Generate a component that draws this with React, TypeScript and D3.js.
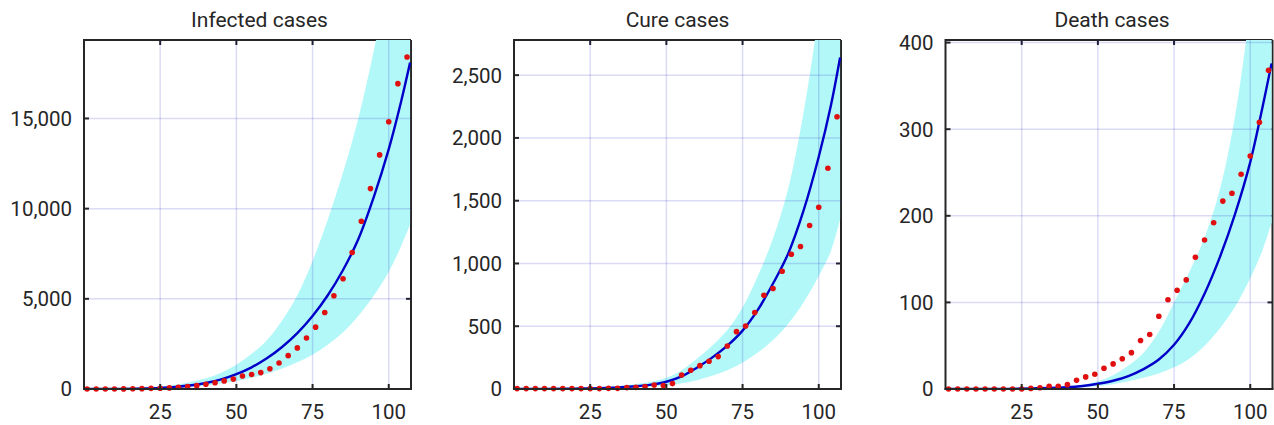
import React from "react";
import * as d3 from "d3";

// observation days (every third day)
const days = [1, 4, 7, 10, 13, 16, 19, 22, 25, 28, 31, 34, 37, 40, 43, 46, 49, 52, 55, 58, 61, 64, 67, 70, 73, 76, 79, 82, 85, 88, 91, 94, 97, 100, 103, 106];

const infectedObserved = [0, 0, 0, 0, 5, 10, 20, 35, 45, 60, 100, 140, 185, 260, 350, 450, 550, 720, 800, 910, 1120, 1440, 1850, 2280, 2830, 3430, 4240, 5170, 6110, 7570, 9300, 11110, 12980, 14815, 16930, 18410];
const cureObserved = [3, 3, 3, 3, 3, 3, 3, 3, 3, 3, 5, 5, 11, 13, 19, 32, 27, 43, 112, 149, 186, 221, 258, 343, 457, 502, 609, 747, 800, 938, 1073, 1135, 1302, 1448, 1759, 2169];
const deathObserved = [0, 0, 0, 0, 0, 0, 0, 0, 0, 0.7, 1.5, 3, 3, 5, 10, 14, 17, 24, 29, 35, 42, 56, 63, 84, 103, 114, 126, 152, 172, 192, 217, 226, 248, 269, 308, 368];

// fitted curve and confidence band, read at these days
const fitDays = [0, 10, 20, 30, 40, 45, 50, 55, 60, 65, 70, 75, 80, 85, 90, 95, 100, 104, 107];

const infectedFit = [0, 3, 25, 110, 330, 530, 820, 1200, 1700, 2330, 3100, 4050, 5200, 6600, 8300, 10600, 13300, 15900, 18100];
const infectedUpper = [0, 8, 60, 230, 600, 900, 1350, 1950, 2700, 3800, 5200, 7100, 9400, 12000, 15000, 18700, 23000, 27000, 30500];
const infectedLower = [0, 1, 15, 70, 200, 300, 440, 620, 850, 1130, 1480, 1900, 2450, 3150, 4050, 5150, 6500, 7900, 9100];

const cureFit = [0, 1, 3, 8, 22, 35, 58, 100, 170, 250, 345, 465, 630, 840, 1080, 1420, 1850, 2260, 2640];
const cureUpper = [0, 2, 6, 16, 40, 58, 90, 150, 240, 345, 470, 650, 900, 1200, 1600, 2200, 3000, 3800, 4500];
const cureLower = [0, 0.5, 1.5, 4, 12, 18, 28, 45, 70, 105, 150, 210, 290, 390, 520, 690, 900, 1100, 1350];

const deathFit = [0, 0, 0.2, 0.8, 2, 3.5, 6, 9.5, 15, 23, 34, 51, 76, 110, 152, 202, 262, 325, 376];
const deathUpper = [0, 0.1, 0.5, 1.5, 3, 5, 9, 16, 27, 42, 66, 100, 135, 175, 230, 315, 440, 560, 660];
const deathLower = [0, 0, 0.1, 0.3, 1, 2, 3.5, 5.5, 9, 13, 18, 25, 35, 50, 70, 95, 128, 160, 192];

const xTicks = [25, 50, 75, 100];
const infectedTicks = [0, 5000, 10000, 15000];
const cureTicks = [0, 500, 1000, 1500, 2000, 2500];
const deathTicks = [0, 100, 200, 300, 400];

const panels = [
  { title: "Infected cases", left: 84, yMax: 19350, yTicks: infectedTicks, obs: infectedObserved, fit: infectedFit, hi: infectedUpper, lo: infectedLower, titleDx: 12 },
  { title: "Cure cases", left: 514, yMax: 2780, yTicks: cureTicks, obs: cureObserved, fit: cureFit, hi: cureUpper, lo: cureLower, titleDx: 0 },
  { title: "Death cases", left: 945.5, yMax: 403, yTicks: deathTicks, obs: deathObserved, fit: deathFit, hi: deathUpper, lo: deathLower, titleDx: 3 },
];

const top = 40;
const bottom = 389;
const plotW = 327;
const textColor = "#262626";
const fmt = d3.format(",");

const Panel = ({ p, i }: { p: any; i: number }) => {
  const x = d3.scaleLinear().domain([0, 107.3]).range([p.left, p.left + plotW]);
  const y = d3.scaleLinear().domain([0, p.yMax]).range([bottom, top]);
  const right = p.left + plotW;

  const band = d3
    .area<number>()
    .x((_, k) => x(fitDays[k]))
    .y0((_, k) => y(p.lo[k]))
    .y1((_, k) => y(p.hi[k]))
    .curve(d3.curveCatmullRom.alpha(0.5));
  const line = d3
    .line<number>()
    .x((_, k) => x(fitDays[k]))
    .y((d) => y(d))
    .curve(d3.curveCatmullRom.alpha(0.5));

  const clipId = `clip-${i}`;
  const tl = 5;

  return (
    <g>
      <defs>
        <clipPath id={clipId}>
          <rect x={p.left} y={top} width={plotW} height={bottom - top} />
        </clipPath>
      </defs>
      <rect x={p.left} y={top} width={plotW} height={bottom - top} fill="#fff" />
      {/* top and right border sit under the band */}
      <line x1={p.left} x2={right} y1={top} y2={top} stroke={textColor} strokeWidth={2} />
      <line x1={right} x2={right} y1={top} y2={bottom} stroke={textColor} strokeWidth={2} />
      {xTicks.map((t) => (
        <line key={"tt" + t} x1={x(t)} x2={x(t)} y1={top} y2={top + tl} stroke={textColor} strokeWidth={2} />
      ))}
      {p.yTicks.map((t: number) => (
        <line key={"rt" + t} x1={right} x2={right - tl} y1={y(t)} y2={y(t)} stroke={textColor} strokeWidth={2} />
      ))}
      <g clipPath={`url(#${clipId})`}>
        <path d={band(p.fit) || ""} fill="#b3f8f8" />
        {xTicks.map((t) => (
          <line key={"gx" + t} x1={x(t)} x2={x(t)} y1={top} y2={bottom} stroke="#0000c0" strokeOpacity={0.14} strokeWidth={1.5} />
        ))}
        {p.yTicks.filter((t: number) => t > 0).map((t: number) => (
          <line key={"gy" + t} x1={p.left} x2={right} y1={y(t)} y2={y(t)} stroke="#0000c0" strokeOpacity={0.14} strokeWidth={1.5} />
        ))}
        <path d={line(p.fit) || ""} fill="none" stroke="#0000c8" strokeWidth={2.4} />
      </g>
      {p.obs.map((v: number, k: number) => (
        <circle key={"d" + k} cx={x(days[k])} cy={y(v)} r={2.8} fill="#e01010" />
      ))}
      {/* left and bottom axes */}
      <line x1={p.left} x2={p.left} y1={top - 1} y2={bottom + 1} stroke={textColor} strokeWidth={2} />
      <line x1={p.left - 1} x2={right + 1} y1={bottom} y2={bottom} stroke={textColor} strokeWidth={2} />
      {xTicks.map((t) => (
        <g key={"xt" + t}>
          <line x1={x(t)} x2={x(t)} y1={bottom} y2={bottom - tl} stroke={textColor} strokeWidth={2} />
          <text x={x(t)} y={419} textAnchor="middle" fontSize={20.5} fill={textColor}>
            {t}
          </text>
        </g>
      ))}
      {p.yTicks.map((t: number) => (
        <g key={"yt" + t}>
          <line x1={p.left} x2={p.left + tl} y1={y(t)} y2={y(t)} stroke={textColor} strokeWidth={2} />
          <text x={p.left - 12} y={y(t)} dy="0.36em" textAnchor="end" fontSize={20.5} fill={textColor}>
            {fmt(t)}
          </text>
        </g>
      ))}
      <text x={p.left + plotW / 2 + p.titleDx} y={27} textAnchor="middle" fontSize={21} fill={textColor}>
        {p.title}
      </text>
    </g>
  );
};

export default function App() {
  return (
    <svg
      width={1274}
      height={425}
      style={{ position: "absolute", left: 0, top: 0, background: "#fff", fontFamily: "Roboto, 'Noto Sans', sans-serif" }}
    >
      <rect width={1274} height={425} fill="#fff" />
      {panels.map((p, i) => (
        <Panel key={p.title} p={p} i={i} />
      ))}
    </svg>
  );
}
